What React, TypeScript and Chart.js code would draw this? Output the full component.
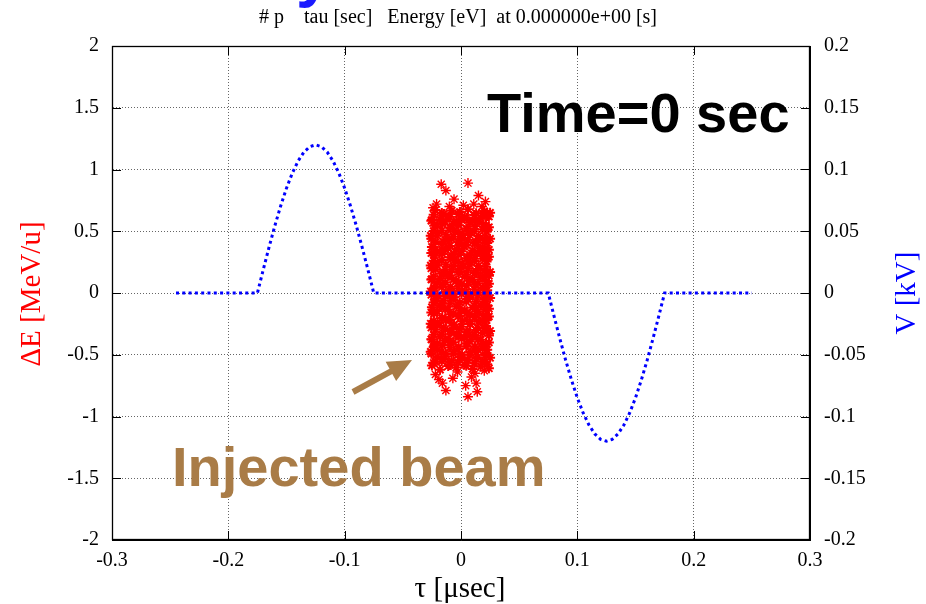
import React, { useEffect, useRef } from 'react';
import { Chart, registerables } from 'chart.js';

Chart.register(...registerables);

// ---------- tick labels ----------
const X_TICKS = [-0.3, -0.2, -0.1, 0, 0.1, 0.2, 0.3];
const Y_TICKS = [-2, -1.5, -1, -0.5, 0, 0.5, 1, 1.5, 2];
const Y2_TICKS = [-0.2, -0.15, -0.1, -0.05, 0, 0.05, 0.1, 0.15, 0.2];

// ---------- RF voltage (kV) vs tau (usec) ----------
const vTau = [
  -0.245, -0.175, -0.17, -0.165, -0.16, -0.155, -0.15, -0.145, -0.14, -0.135, -0.13, -0.125,
  -0.12, -0.115, -0.11, -0.105, -0.1, -0.095, -0.09, -0.085, -0.08, -0.075,
  0.075, 0.08, 0.085, 0.09, 0.095, 0.1, 0.105, 0.11, 0.115, 0.12, 0.125,
  0.13, 0.135, 0.14, 0.145, 0.15, 0.155, 0.16, 0.165, 0.17, 0.175, 0.25,
];
const vKV = [
  0, 0, 0.0188, 0.0371, 0.0545, 0.0705, 0.0849, 0.0971, 0.1069, 0.1141, 0.1185, 0.12,
  0.1185, 0.1141, 0.1069, 0.0971, 0.0849, 0.0705, 0.0545, 0.0371, 0.0188, 0,
  0, -0.0188, -0.0371, -0.0545, -0.0705, -0.0849, -0.0971, -0.1069, -0.1141, -0.1185, -0.12,
  -0.1185, -0.1141, -0.1069, -0.0971, -0.0849, -0.0705, -0.0545, -0.0371, -0.0188, 0, 0,
];

// ---------- injected beam particles: tau (usec), dE (MeV/u) ----------
const TAU_A = [-0.025, -0.018, -0.011, -0.004, 0.003, 0.01, 0.017, 0.024];
const TAU_B = [-0.022, -0.015, -0.008, -0.001, 0.006, 0.013, 0.02, 0.025];
const TAU_C = [-0.026, -0.02, -0.013, -0.006, 0.001, 0.008, 0.015, 0.022];
const TAU_D = [-0.023, -0.016, -0.009, -0.002, 0.005, 0.012, 0.019, 0.024];
const TAU_E = [-0.0235, -0.0165, -0.0095, -0.0025, 0.0045, 0.0115, 0.0185, 0.0225];
const TAU_F = [-0.0205, -0.0135, -0.0065, 0.0005, 0.0075, 0.0145, 0.0215, -0.0255];

const beamCoreRows: [number[], number[]][] = [
  [TAU_A, [-0.587, -0.621, -0.592, -0.604, -0.581, -0.615, -0.598, -0.61]],
  [TAU_E, [-0.566, -0.552, -0.583, -0.561, -0.59, -0.569, -0.554, -0.577]],
  [TAU_B, [-0.557, -0.534, -0.549, -0.519, -0.542, -0.529, -0.559, -0.525]],
  [TAU_F, [-0.518, -0.513, -0.49, -0.526, -0.498, -0.521, -0.503, -0.491]],
  [TAU_C, [-0.476, -0.462, -0.493, -0.471, -0.5, -0.479, -0.464, -0.487]],
  [TAU_E, [-0.437, -0.471, -0.442, -0.454, -0.431, -0.465, -0.448, -0.46]],
  [TAU_D, [-0.428, -0.423, -0.4, -0.436, -0.408, -0.431, -0.413, -0.401]],
  [TAU_F, [-0.407, -0.384, -0.399, -0.369, -0.392, -0.379, -0.409, -0.375]],
  [TAU_A, [-0.377, -0.354, -0.369, -0.339, -0.362, -0.349, -0.379, -0.345]],
  [TAU_E, [-0.338, -0.333, -0.31, -0.346, -0.318, -0.341, -0.323, -0.311]],
  [TAU_B, [-0.296, -0.282, -0.313, -0.291, -0.32, -0.299, -0.284, -0.307]],
  [TAU_F, [-0.257, -0.291, -0.262, -0.274, -0.251, -0.285, -0.268, -0.28]],
  [TAU_C, [-0.248, -0.243, -0.22, -0.256, -0.228, -0.251, -0.233, -0.221]],
  [TAU_E, [-0.227, -0.204, -0.219, -0.189, -0.212, -0.199, -0.229, -0.195]],
  [TAU_D, [-0.167, -0.201, -0.172, -0.184, -0.161, -0.195, -0.178, -0.19]],
  [TAU_F, [-0.146, -0.132, -0.163, -0.141, -0.17, -0.149, -0.134, -0.157]],
  [TAU_A, [-0.116, -0.102, -0.133, -0.111, -0.14, -0.119, -0.104, -0.127]],
  [TAU_E, [-0.077, -0.111, -0.082, -0.094, -0.071, -0.105, -0.088, -0.1]],
  [TAU_B, [-0.068, -0.063, -0.04, -0.076, -0.048, -0.071, -0.053, -0.041]],
  [TAU_F, [-0.047, -0.024, -0.039, -0.009, -0.032, -0.019, -0.049, -0.015]],
  [TAU_C, [0.013, -0.021, 0.008, -0.004, 0.019, -0.015, 0.002, -0.01]],
  [TAU_E, [0.034, 0.048, 0.017, 0.039, 0.01, 0.031, 0.046, 0.023]],
  [TAU_D, [0.043, 0.066, 0.051, 0.081, 0.058, 0.071, 0.041, 0.075]],
  [TAU_F, [0.082, 0.087, 0.11, 0.074, 0.102, 0.079, 0.097, 0.109]],
  [TAU_A, [0.112, 0.117, 0.14, 0.104, 0.132, 0.109, 0.127, 0.139]],
  [TAU_E, [0.133, 0.156, 0.141, 0.171, 0.148, 0.161, 0.131, 0.165]],
  [TAU_B, [0.193, 0.159, 0.188, 0.176, 0.199, 0.165, 0.182, 0.17]],
  [TAU_F, [0.223, 0.189, 0.218, 0.206, 0.229, 0.195, 0.212, 0.2]],
  [TAU_C, [0.223, 0.246, 0.231, 0.261, 0.238, 0.251, 0.221, 0.255]],
  [TAU_E, [0.262, 0.267, 0.29, 0.254, 0.282, 0.259, 0.277, 0.289]],
  [TAU_D, [0.304, 0.318, 0.287, 0.309, 0.28, 0.301, 0.316, 0.293]],
  [TAU_F, [0.334, 0.348, 0.317, 0.339, 0.31, 0.331, 0.346, 0.323]],
  [TAU_A, [0.373, 0.339, 0.368, 0.356, 0.379, 0.345, 0.362, 0.35]],
  [TAU_E, [0.373, 0.396, 0.381, 0.411, 0.388, 0.401, 0.371, 0.405]],
  [TAU_B, [0.412, 0.417, 0.44, 0.404, 0.432, 0.409, 0.427, 0.439]],
  [TAU_F, [0.463, 0.429, 0.458, 0.446, 0.469, 0.435, 0.452, 0.44]],
  [TAU_C, [0.463, 0.486, 0.471, 0.501, 0.478, 0.491, 0.461, 0.495]],
  [TAU_E, [0.502, 0.507, 0.53, 0.494, 0.522, 0.499, 0.517, 0.529]],
  [TAU_D, [0.544, 0.558, 0.527, 0.549, 0.52, 0.541, 0.556, 0.533]],
  [TAU_F, [0.553, 0.576, 0.561, 0.591, 0.568, 0.581, 0.551, 0.585]],
  [TAU_A, [0.592, 0.597, 0.62, 0.584, 0.612, 0.589, 0.607, 0.619]],
  [TAU_E, [0.634, 0.648, 0.617, 0.639, 0.61, 0.631, 0.646, 0.623]],
  [TAU_B, [0.673, 0.639, 0.668, 0.656, 0.679, 0.645, 0.662, 0.65]],
];

const beamTails: [number, number][] = [
  [-0.017, 0.88], [0.006, 0.89], [-0.013, 0.83], [-0.006, 0.76], [0.015, 0.79], [0.021, 0.74],
  [-0.021, 0.72], [0.002, 0.71], [-0.01, 0.7], [0.011, 0.72], [0.018, 0.7], [-0.024, 0.69],
  [-0.016, -0.73], [-0.007, -0.69], [0.004, -0.75], [0.013, -0.73], [0.014, -0.8], [0.006, -0.84],
  [-0.013, -0.79], [0.012, -0.65], [0.02, -0.63], [-0.022, -0.66], [-0.003, -0.64], [0.009, -0.68],
  [-0.019, -0.7],
];

const fmt = (v: number) => String(Number(Number(v).toFixed(3)));
const SERIF = '"Liberation Serif", "Times New Roman", serif';
const SANS = '"Liberation Sans", Arial, sans-serif';

const decorPlugin = {
  id: 'decor',
  afterDraw(chart: any) {
    const { ctx, chartArea } = chart;
    const { left, right, top, bottom } = chartArea;
    const sx = chart.scales.x;
    const sy = chart.scales.y;
    const sy2 = chart.scales.y2;
    ctx.save();
    // frame
    ctx.strokeStyle = '#000';
    ctx.lineWidth = 1.3;
    ctx.setLineDash([]);
    ctx.strokeRect(left + 0.5, top + 0.5, right - left - 1, bottom - top - 1);
    // inward ticks
    ctx.lineWidth = 1;
    ctx.beginPath();
    X_TICKS.forEach((v) => {
      const p = Math.round(sx.getPixelForValue(v)) + 0.5;
      ctx.moveTo(p, bottom); ctx.lineTo(p, bottom - 9);
      ctx.moveTo(p, top); ctx.lineTo(p, top + 9);
    });
    Y_TICKS.forEach((v) => {
      const p = Math.round(sy.getPixelForValue(v)) + 0.5;
      ctx.moveTo(left, p); ctx.lineTo(left + 9, p);
    });
    Y2_TICKS.forEach((v) => {
      const p = Math.round(sy2.getPixelForValue(v)) + 0.5;
      ctx.moveTo(right, p); ctx.lineTo(right - 9, p);
    });
    ctx.stroke();

    // title
    ctx.fillStyle = '#000';
    ctx.font = `20px ${SERIF}`;
    ctx.textAlign = 'left';
    ctx.textBaseline = 'alphabetic';
    ctx.fillText('# p    tau [sec]   Energy [eV]  at 0.000000e+00 [s]', 259, 22.5);

    // cut-off blue glyph at the top
    ctx.fillStyle = '#1a1aff';
    ctx.font = `bold 64px ${SANS}`;
    ctx.fillText('y', 296, -5);

    // x axis title
    ctx.fillStyle = '#000';
    ctx.font = `29px ${SERIF}`;
    ctx.textAlign = 'center';
    ctx.fillText('\u03c4 [\u03bcsec]', 460, 597);

    // left axis title
    ctx.save();
    ctx.translate(40, 294);
    ctx.rotate(-Math.PI / 2);
    ctx.fillStyle = '#ff0000';
    ctx.fillText('\u0394E [MeV/u]', 0, 0);
    ctx.restore();

    // right axis title
    ctx.save();
    ctx.translate(915, 293);
    ctx.rotate(-Math.PI / 2);
    ctx.fillStyle = '#0000ff';
    ctx.fillText('V [kV]', 0, 0);
    ctx.restore();

    // annotations
    ctx.textAlign = 'left';
    ctx.fillStyle = '#000';
    ctx.font = `bold 56px ${SANS}`;
    ctx.fillText('Time=0 sec', 487, 132);
    ctx.fillStyle = '#a97c47';
    ctx.fillText('Injected beam', 172, 486);

    // arrow
    const tail = [353, 392];
    const tip = [412, 360];
    const dx = tip[0] - tail[0];
    const dy = tip[1] - tail[1];
    const L = Math.hypot(dx, dy);
    const ux = dx / L, uy = dy / L;
    const nx = -uy, ny = ux;
    const hl = 24, hw = 11, sw = 3;
    const bx = tip[0] - ux * hl, by = tip[1] - uy * hl;
    ctx.beginPath();
    ctx.moveTo(tail[0] + nx * sw, tail[1] + ny * sw);
    ctx.lineTo(bx + nx * sw, by + ny * sw);
    ctx.lineTo(bx + nx * hw, by + ny * hw);
    ctx.lineTo(tip[0], tip[1]);
    ctx.lineTo(bx - nx * hw, by - ny * hw);
    ctx.lineTo(bx - nx * sw, by - ny * sw);
    ctx.lineTo(tail[0] - nx * sw, tail[1] - ny * sw);
    ctx.closePath();
    ctx.fill();
    ctx.restore();
  },
};

export default function App() {
  const ref = useRef<HTMLCanvasElement | null>(null);

  useEffect(() => {
    document.body.style.margin = '0';
    const canvas = ref.current;
    if (!canvas) return;

    const corePts: { x: number; y: number }[] = [];
    beamCoreRows.forEach(([taus, des]) => {
      taus.forEach((t, i) => corePts.push({ x: t, y: des[i] }));
    });
    const tailPts = beamTails.map(([t, e]) => ({ x: t, y: e }));
    const vPts = vTau.map((t, i) => ({ x: t, y: vKV[i] }));

    const gridCommon = { color: '#666', lineWidth: 1, drawTicks: false };
    const tickFont = { family: SERIF, size: 20 };

    const chart = new Chart(canvas, {
      type: 'scatter',
      data: {
        datasets: [
          {
            label: 'V',
            data: vPts,
            yAxisID: 'y2',
            showLine: true,
            borderColor: '#0000ff',
            backgroundColor: '#0000ff',
            borderWidth: 3,
            borderDash: [3, 3.3],
            pointRadius: 0,
            fill: false,
            tension: 0,
            order: 0,
          } as any,
          {
            label: 'beam core',
            data: corePts,
            yAxisID: 'y',
            pointStyle: 'star',
            pointRadius: 5,
            borderColor: '#ff0000',
            backgroundColor: '#ff0000',
            borderWidth: 2,
            order: 1,
          } as any,
          {
            label: 'beam tails',
            data: tailPts,
            yAxisID: 'y',
            pointStyle: 'star',
            pointRadius: 5,
            borderColor: '#ff0000',
            backgroundColor: '#ff0000',
            borderWidth: 1.4,
            order: 2,
          } as any,
        ],
      },
      options: {
        responsive: false,
        animation: false,
        layout: { padding: { top: 46, left: 0, right: 0, bottom: 0 } },
        plugins: {
          legend: { display: false },
          tooltip: { enabled: false },
          title: { display: false },
        },
        scales: {
          x: {
            type: 'linear',
            position: 'bottom',
            min: -0.3,
            max: 0.3,
            afterBuildTicks: (s: any) => { s.ticks = X_TICKS.map((value) => ({ value })); },
            afterFit: (s: any) => { s.height = 64; },
            ticks: { font: tickFont, color: '#000', padding: 9, maxRotation: 0, autoSkip: false, callback: (v: any) => fmt(v) },
            grid: gridCommon,
            border: { display: true, color: '#000', width: 1, dash: [1, 2] },
          },
          y: {
            type: 'linear',
            position: 'left',
            min: -2,
            max: 2,
            afterBuildTicks: (s: any) => { s.ticks = Y_TICKS.map((value) => ({ value })); },
            afterFit: (s: any) => { s.width = 112; },
            ticks: { font: tickFont, color: '#000', padding: 13, autoSkip: false, callback: (v: any) => fmt(v) },
            grid: gridCommon,
            border: { display: true, color: '#000', width: 1, dash: [1, 2] },
          },
          y2: {
            type: 'linear',
            position: 'right',
            min: -0.2,
            max: 0.2,
            afterBuildTicks: (s: any) => { s.ticks = Y2_TICKS.map((value) => ({ value })); },
            afterFit: (s: any) => { s.width = 116; },
            ticks: { font: tickFont, color: '#000', padding: 14, autoSkip: false, callback: (v: any) => fmt(v) },
            grid: { ...gridCommon, drawOnChartArea: false },
            border: { display: true, color: '#000', width: 1 },
          },
        },
      } as any,
      plugins: [decorPlugin],
    });

    return () => chart.destroy();
  }, []);

  return (
    <div style={{ position: 'absolute', left: 0, top: 0, width: 926, height: 604, background: '#fff' }}>
      <canvas ref={ref} width={926} height={604} style={{ display: 'block', width: 926, height: 604 }} />
    </div>
  );
}
